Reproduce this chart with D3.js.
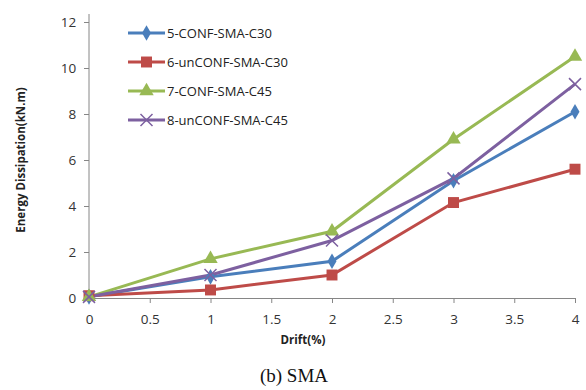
<!DOCTYPE html>
<html lang="en">
<head>
<meta charset="UTF-8"/>
<title>Energy Dissipation - SMA</title>
<script src="https://d3js.org/d3.v7.min.js"></script>
<style>
	body { margin: 0; background: #fff; }
	text { font-family: "Open Sans", "DejaVu Sans", sans-serif; }
</style>
</head>
<body>
<div id="chart"></div>
<script>
	// data
	var drift = [0, 1, 2, 3, 4];
	var seriesNames = ["5-CONF-SMA-C30", "6-unCONF-SMA-C30", "7-CONF-SMA-C45", "8-unCONF-SMA-C45"];
	var confC30 = [0.05, 0.92, 1.6, 5.1, 8.1];
	var unconfC30 = [0.1, 0.35, 1.0, 4.15, 5.6];
	var confC45 = [0.05, 1.7, 2.9, 6.9, 10.5];
	var unconfC45 = [0.05, 1.0, 2.5, 5.2, 9.3];
	var xTicks = [0, 0.5, 1, 1.5, 2, 2.5, 3, 3.5, 4];
	var yTicks = [0, 2, 4, 6, 8, 10, 12];

	var colors = ["#4a7ebb", "#be4b48", "#98b954", "#7d60a0"];
	var symbols = ["diamond", "square", "triangle", "cross"];
	var allSeries = [confC30, unconfC30, confC45, unconfC45];

	var w = 586, h = 390;
	var plotLeft = 89, plotRight = 575, plotTop = 22, plotBottom = 298;

	var svg = d3.select("#chart").append("svg")
		.attr("width", w)
		.attr("height", h);

	var xScale = d3.scaleLinear().domain([0, 4]).range([plotLeft, plotRight]);
	var yScale = d3.scaleLinear().domain([0, 12]).range([plotBottom, plotTop]);

	//axes
	var xAxis = d3.axisBottom(xScale).tickValues(xTicks).tickSize(5).tickSizeOuter(0)
		.tickFormat(function(d) { return d; });
	var yAxis = d3.axisLeft(yScale).tickValues(yTicks).tickSize(5).tickSizeOuter(0);

	var gx = svg.append("g")
		.attr("transform", "translate(0," + plotBottom + ")")
		.call(xAxis);
	var gy = svg.append("g")
		.attr("transform", "translate(" + plotLeft + ",0)")
		.call(yAxis);

	// extend y axis line a bit above 12
	gy.select(".domain").attr("d", "M0," + plotBottom + "V" + (plotTop - 8));

	[gx, gy].forEach(function(g) {
		g.selectAll("path, line").attr("stroke", "#868686");
		g.selectAll("text").attr("fill", "#333").style("font-size", "13.5px");
	});
	gx.selectAll("text").attr("dy", "1.35em");
	gy.selectAll("text").attr("dx", "-0.35em");

	//lines
	var line = d3.line()
		.x(function(d, i) { return xScale(drift[i]); })
		.y(function(d) { return yScale(d); });

	function drawMarker(g, type, color) {
		if (type === "cross") {
			g.append("path")
				.attr("d", "M-6,-6L6,6M-6,6L6,-6")
				.attr("stroke", color)
				.attr("stroke-width", 1.5)
				.attr("fill", "none");
		} else {
			var sym = { diamond: d3.symbolDiamond, square: d3.symbolSquare, triangle: d3.symbolTriangle }[type];
			var size = { diamond: 70, square: 120, triangle: 90 }[type];
			g.append("path")
				.attr("d", d3.symbol().type(sym).size(size)())
				.attr("fill", color);
		}
	}

	allSeries.forEach(function(vals, s) {
		svg.append("path")
			.datum(vals)
			.attr("d", line)
			.attr("fill", "none")
			.attr("stroke", colors[s])
			.attr("stroke-width", 3);
	});

	allSeries.forEach(function(vals, s) {
		vals.forEach(function(v, i) {
			var g = svg.append("g")
				.attr("transform", "translate(" + xScale(drift[i]) + "," + yScale(v) + ")");
			drawMarker(g, symbols[s], colors[s]);
		});
	});

	//legend
	var legend = svg.append("g").attr("transform", "translate(128,33)");
	seriesNames.forEach(function(name, i) {
		var row = legend.append("g").attr("transform", "translate(0," + (i * 29) + ")");
		row.append("line")
			.attr("x1", 0).attr("x2", 37)
			.attr("stroke", colors[i])
			.attr("stroke-width", 3);
		var m = row.append("g").attr("transform", "translate(18.5,0)");
		drawMarker(m, symbols[i], colors[i]);
		row.append("text")
			.attr("x", 39)
			.attr("dy", "0.35em")
			.style("font-size", "13px")
			.attr("fill", "#222")
			.text(name);
	});

	//axis titles
	svg.append("text")
		.attr("transform", "translate(25," + ((plotTop + plotBottom) / 2) + ") rotate(-90)")
		.attr("text-anchor", "middle")
		.style("font-size", "11.5px")
		.style("font-weight", "bold")
		.attr("fill", "#222")
		.text("Energy Dissipation(kN.m)");

	svg.append("text")
		.attr("x", 303)
		.attr("y", 344)
		.attr("text-anchor", "middle")
		.style("font-size", "11.5px")
		.style("font-weight", "bold")
		.attr("fill", "#222")
		.text("Drift(%)");

	//caption
	svg.append("text")
		.attr("x", 294)
		.attr("y", 382)
		.attr("text-anchor", "middle")
		.style("font-family", "'Liberation Serif', 'DejaVu Serif', serif")
		.style("font-size", "19px")
		.attr("fill", "#111")
		.text("(b) SMA");
</script>
</body>
</html>
